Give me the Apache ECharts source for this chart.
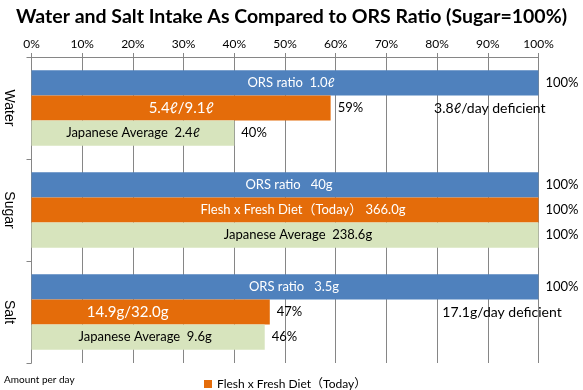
<!DOCTYPE html>
<html>
<head>
<meta charset="utf-8">
<script src="https://cdn.jsdelivr.net/npm/echarts@6/dist/echarts.min.js"></script>
<style>html,body{margin:0;padding:0;background:#fff;}#c{width:583px;height:390px;}</style>
</head>
<body>
<div id="c"></div>
<script>
const categories = ['Water', 'Sugar', 'Salt'];
const xTicks = [0, 10, 20, 30, 40, 50, 60, 70, 80, 90, 100];
const orsName = 'ORS ratio';
const dietName = 'Flesh x Fresh Diet（Today）';
const avgName = 'Japanese Average';
const orsValues = [100, 100, 100];
const dietValues = [59, 100, 47];
const avgValues = [40, 100, 46];
const orsLabels = ['ORS ratio  1.0ℓ', 'ORS ratio   40g', 'ORS ratio   3.5g'];
const dietLabels = ['5.4ℓ/9.1ℓ', 'Flesh x Fresh Diet（Today） 366.0g', '14.9g/32.0g'];
const avgLabels = ['Japanese Average  2.4ℓ', 'Japanese Average  238.6g', 'Japanese Average  9.6g'];
const deficitNotes = [
  { category: 'Water', at: 90.4, text: '3.8ℓ/day deficient' },
  { category: 'Salt', at: 92.8, text: '17.1g/day deficient' }
];
const footNote = 'Amount per day';

// label styling (horizontal nudges of the in-bar labels, as placed in the original)
const FONT = "Lato, 'Noto Sans CJK JP', sans-serif";
const orsNudge = [6, 4, 9];
const dietNudge = [0, 18, -23];
const avgNudge = [0, 13, -3];
const dietFontSizes = [15, 13, 15];

const chart = echarts.init(document.getElementById('c'), null, { renderer: 'canvas' });

function mainSeries(name, values, labels, color, stack, labelColor, nudge, sizes) {
  return {
    name: name, type: 'bar', stack: stack,
    data: values.map((v, i) => ({
      value: v,
      label: { offset: [nudge[i], 0], fontSize: sizes ? sizes[i] : 13 }
    })),
    itemStyle: { color: color },
    barCategoryGap: '26%', barGap: '0%',
    label: {
      show: true, position: 'inside', color: labelColor, fontFamily: FONT,
      fontSize: 13,
      formatter: p => labels[p.dataIndex]
    }
  };
}
function pctSeries(values, stack) {
  return {
    type: 'bar', stack: stack,
    data: values.map(v => ({ value: 0, label: { formatter: v + '%' } })),
    itemStyle: { color: 'transparent' },
    label: { show: true, position: 'right', distance: 7, color: '#000', fontFamily: FONT, fontSize: 13 },
    silent: true
  };
}

const ors = mainSeries(orsName, orsValues, orsLabels, '#4F81BD', 'ors', '#fff', orsNudge);
const diet = mainSeries(dietName, dietValues, dietLabels, '#E46C0A', 'diet', '#fff', dietNudge, dietFontSizes);
diet.markPoint = {
  symbol: 'circle', symbolSize: 0, silent: true,
  label: { show: true, position: 'inside', color: '#000', fontFamily: FONT, fontSize: 14 },
  data: deficitNotes.map(n => ({ coord: [n.at, n.category], value: n.text, label: { formatter: n.text } }))
};
const avg = mainSeries(avgName, avgValues, avgLabels, '#D7E4BD', 'avg', '#000', avgNudge);

const option = {
  animation: false,
  title: {
    text: 'Water and Salt Intake As Compared to ORS Ratio (Sugar=100%)',
    left: 'center', top: 2,
    textStyle: { fontFamily: FONT, fontWeight: 'bold', fontSize: 19.5, color: '#000' }
  },
  legend: {
    data: [dietName], left: 199, top: 373, icon: 'rect', itemWidth: 8, itemHeight: 8, itemGap: 4,
    textStyle: { fontFamily: FONT, fontSize: 12, color: '#000' }
  },
  graphic: [{ type: 'text', left: 4, top: 375, style: { text: footNote, fontFamily: FONT, fontSize: 10, fill: '#000' } }],
  grid: { left: 31.5, right: 44.5, top: 57, bottom: 27, containLabel: false },
  xAxis: {
    type: 'value', position: 'top', min: 0, max: 100, interval: 10,
    axisLine: { show: true, lineStyle: { color: '#868686' } },
    axisTick: { show: true, length: 4, lineStyle: { color: '#868686' } },
    axisLabel: { formatter: v => xTicks.includes(v) ? v + '%' : '', fontFamily: FONT, fontSize: 12, color: '#000', margin: 7 },
    splitLine: { show: true, lineStyle: { color: '#868686' } }
  },
  yAxis: {
    type: 'category', data: categories, inverse: true,
    axisLine: { show: true, lineStyle: { color: '#868686' } },
    axisTick: { show: true, length: 5, lineStyle: { color: '#868686' } },
    axisLabel: { rotate: -90, fontFamily: "'Liberation Sans', Arial, sans-serif", fontSize: 14, color: '#000', margin: 16 }
  },
  series: [ors, pctSeries(orsValues, 'ors'), diet, pctSeries(dietValues, 'diet'), avg, pctSeries(avgValues, 'avg')]
};
chart.setOption(option);
</script>
</body>
</html>
